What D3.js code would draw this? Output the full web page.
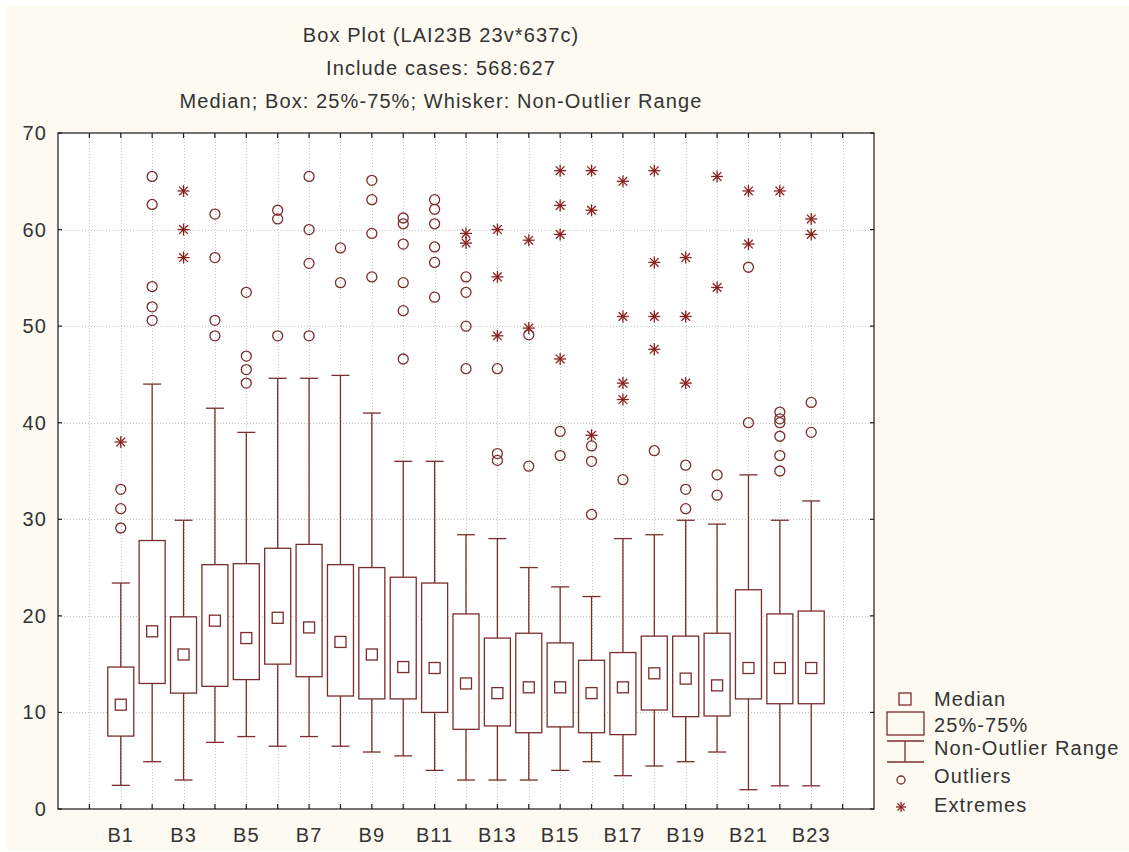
<!DOCTYPE html>
<html>
<head>
<meta charset="utf-8">
<script src="https://cdn.jsdelivr.net/npm/d3@7"></script>
<style>
  html, body { margin: 0; padding: 0; background: #ffffff; }
  svg { display: block; }
  text { font-family: "Liberation Sans", Arial, sans-serif; font-size: 20px; letter-spacing: 1.1px; fill: #333333; }
</style>
</head>
<body>
<svg id="chart" width="1129" height="852"></svg>
<script>
// Box plot of LAI23B variables B1..B23 (cases 568:627)
const categories = ["B1","B2","B3","B4","B5","B6","B7","B8","B9","B10","B11","B12",
                    "B13","B14","B15","B16","B17","B18","B19","B20","B21","B22","B23"];
const medians    = [10.8,18.4,16.0,19.5,17.7,19.8,18.8,17.3,16.0,14.7,14.6,13.0,
                    12.0,12.6,12.6,12.0,12.6,14.05,13.5,12.8,14.6,14.6,14.6];
const q1         = [7.55,13.0,12.0,12.7,13.4,15.0,13.7,11.7,11.4,11.4,10.0,8.25,
                    8.6,7.9,8.5,7.9,7.7,10.25,9.56,9.63,11.4,10.9,10.9];
const q3         = [14.7,27.8,19.9,25.3,25.4,27.0,27.4,25.3,25.0,24.0,23.4,20.2,
                    17.7,18.2,17.2,15.4,16.2,17.9,17.9,18.2,22.7,20.2,20.5];
const whiskerLow = [2.45,4.9,3.0,6.9,7.5,6.5,7.5,6.5,5.9,5.5,4.0,3.0,
                    3.0,3.0,4.0,4.9,3.45,4.45,4.9,5.9,2.0,2.4,2.4];
const whiskerHigh= [23.4,44.0,29.9,41.5,39.0,44.6,44.6,44.9,41.0,36.0,36.0,28.4,
                    28.0,25.0,23.0,22.0,28.0,28.4,29.9,29.5,34.6,29.9,31.9];
const outliers = [
  [33.1,31.1,29.1],
  [65.5,62.6,54.1,52.0,50.6],
  [],
  [61.6,57.1,50.6,49.0],
  [53.5,46.9,45.5,44.1],
  [62.0,61.1,49.0],
  [65.5,60.0,56.5,49.0],
  [58.1,54.5],
  [65.1,63.1,59.6,55.1],
  [61.2,60.6,58.5,54.5,51.6,46.6],
  [63.1,62.1,60.6,58.2,56.6,53.0],
  [55.1,53.5,50.0,45.6],
  [45.6,36.8,36.1],
  [49.1,35.5],
  [39.1,36.6],
  [37.6,36.0,30.5],
  [34.1],
  [37.1],
  [35.6,33.1,31.1],
  [34.6,32.5],
  [56.1,40.0],
  [41.1,40.4,40.0,38.6,36.6,35.0],
  [42.1,39.0]
];
const extremes = [
  [38.0],
  [],
  [64.0,60.0,57.1],
  [],[],[],[],[],[],[],[],
  [59.6,58.6],
  [60.0,55.1,49.0],
  [58.9,49.8],
  [66.1,62.5,59.5,46.6],
  [66.1,62.0,38.7],
  [65.0,51.0,44.1,42.4],
  [66.1,56.6,51.0,47.6],
  [57.1,51.0,44.1],
  [65.5,54.0],
  [64.0,58.5],
  [64.0],
  [61.1,59.5]
];
const yTicks = [0,10,20,30,40,50,60,70];
const xTickLabels = ["B1","B3","B5","B7","B9","B11","B13","B15","B17","B19","B21","B23"];
const titleLines = ["Box Plot (LAI23B 23v*637c)", "Include cases: 568:627",
                    "Median; Box: 25%-75%; Whisker: Non-Outlier Range"];
const legendLabels = ["Median", "25%-75%", "Non-Outlier Range", "Outliers", "Extremes"];

const W = 1129, H = 852;
const plot = { left: 58, right: 874, top: 133, bottom: 809 };
const lineColor = "#7b2c2c";
const starColor = "#8a1f1f";

const svg = d3.select("#chart");

// backgrounds
svg.append("rect").attr("x", 6).attr("y", 6).attr("width", W - 6).attr("height", H - 8)
  .attr("fill", "#fdfaf1");
svg.append("rect").attr("x", plot.left).attr("y", plot.top)
  .attr("width", plot.right - plot.left).attr("height", plot.bottom - plot.top)
  .attr("fill", "#ffffff");

const x = d3.scalePoint().domain(categories).range([plot.left, plot.right]).padding(2);
const step = x.step();
const y = d3.scaleLinear().domain([0, 70]).range([plot.bottom, plot.top]);

// slot positions for vertical grid and ticks (one empty slot on each side of the data)
const slots = [x(categories[0]) - step, ...categories.map(c => x(c)), x(categories[categories.length - 1]) + step];

const grid = svg.append("g").attr("stroke", "#c4c4c4").attr("stroke-width", 1)
  .attr("stroke-dasharray", "1,2");
grid.selectAll("line.v").data(slots).join("line").attr("class", "v")
  .attr("x1", d => Math.round(d) + 0.5).attr("x2", d => Math.round(d) + 0.5)
  .attr("y1", plot.top).attr("y2", plot.bottom);
grid.selectAll("line.h").data(yTicks.filter(t => t > 0 && t < 70)).join("line").attr("class", "h")
  .attr("y1", d => Math.round(y(d)) + 0.5).attr("y2", d => Math.round(y(d)) + 0.5)
  .attr("x1", plot.left).attr("x2", plot.right);

// boxes
const boxW = 26, capW = 18, medS = 11;
const g = svg.append("g").attr("stroke", lineColor).attr("stroke-width", 1.3).attr("fill", "none");
categories.forEach((c, i) => {
  const cx = x(c);
  const gi = g.append("g");
  gi.append("line").attr("x1", cx).attr("x2", cx).attr("y1", y(whiskerHigh[i])).attr("y2", y(q3[i]));
  gi.append("line").attr("x1", cx).attr("x2", cx).attr("y1", y(q1[i])).attr("y2", y(whiskerLow[i]));
  gi.append("line").attr("x1", cx - capW / 2).attr("x2", cx + capW / 2)
    .attr("y1", y(whiskerHigh[i])).attr("y2", y(whiskerHigh[i]));
  gi.append("line").attr("x1", cx - capW / 2).attr("x2", cx + capW / 2)
    .attr("y1", y(whiskerLow[i])).attr("y2", y(whiskerLow[i]));
  gi.append("rect").attr("x", cx - boxW / 2).attr("width", boxW)
    .attr("y", y(q3[i])).attr("height", y(q1[i]) - y(q3[i])).attr("fill", "#ffffff");
  gi.append("rect").attr("x", cx - medS / 2).attr("width", medS)
    .attr("y", y(medians[i]) - medS / 2).attr("height", medS).attr("fill", "#ffffff");
});

// outliers and extremes
function star(sel, cx, cy, r) {
  const gs = sel.append("g").attr("stroke", starColor).attr("stroke-width", 1.3);
  const d = r * 0.72;
  gs.append("line").attr("x1", cx - r).attr("x2", cx + r).attr("y1", cy).attr("y2", cy);
  gs.append("line").attr("x1", cx).attr("x2", cx).attr("y1", cy - r).attr("y2", cy + r);
  gs.append("line").attr("x1", cx - d).attr("x2", cx + d).attr("y1", cy - d).attr("y2", cy + d);
  gs.append("line").attr("x1", cx - d).attr("x2", cx + d).attr("y1", cy + d).attr("y2", cy - d);
}
const marks = svg.append("g");
categories.forEach((c, i) => {
  outliers[i].forEach(v => {
    marks.append("circle").attr("cx", x(c)).attr("cy", y(v)).attr("r", 5)
      .attr("fill", "none").attr("stroke", lineColor).attr("stroke-width", 1.3);
  });
  extremes[i].forEach(v => star(marks, x(c), y(v), 6));
});

// frame and ticks
const axis = svg.append("g").attr("stroke", "#1a1a1a").attr("stroke-width", 1.2);
axis.append("rect").attr("x", plot.left).attr("y", plot.top)
  .attr("width", plot.right - plot.left).attr("height", plot.bottom - plot.top).attr("fill", "none");
slots.forEach(s => {
  axis.append("line").attr("x1", s).attr("x2", s).attr("y1", plot.bottom).attr("y2", plot.bottom - 5);
  axis.append("line").attr("x1", s).attr("x2", s).attr("y1", plot.top).attr("y2", plot.top + 5);
});
yTicks.forEach(t => {
  axis.append("line").attr("x1", plot.left).attr("x2", plot.left + 4).attr("y1", y(t)).attr("y2", y(t));
  axis.append("line").attr("x1", plot.right).attr("x2", plot.right - 4).attr("y1", y(t)).attr("y2", y(t));
});

// tick labels
svg.append("g").selectAll("text").data(yTicks).join("text")
  .attr("x", 47).attr("y", d => y(d) + 7).attr("text-anchor", "end").text(d => d);
svg.append("g").selectAll("text").data(xTickLabels).join("text")
  .attr("x", d => x(d)).attr("y", 842).attr("text-anchor", "middle").text(d => d);

// titles
svg.append("g").selectAll("text").data(titleLines).join("text")
  .attr("x", 441).attr("y", (d, i) => 42 + i * 33).attr("text-anchor", "middle").text(d => d);

// legend
const lg = svg.append("g");
const lx = 905;
lg.append("rect").attr("x", lx - 6).attr("y", 693).attr("width", 12).attr("height", 12)
  .attr("fill", "none").attr("stroke", lineColor).attr("stroke-width", 1.3);
lg.append("rect").attr("x", 887).attr("y", 712).attr("width", 37).attr("height", 23)
  .attr("fill", "none").attr("stroke", lineColor).attr("stroke-width", 1.3);
lg.append("line").attr("x1", 887).attr("x2", 924).attr("y1", 741).attr("y2", 741)
  .attr("stroke", lineColor).attr("stroke-width", 1.3);
lg.append("line").attr("x1", 887).attr("x2", 924).attr("y1", 762).attr("y2", 762)
  .attr("stroke", lineColor).attr("stroke-width", 1.3);
lg.append("line").attr("x1", lx).attr("x2", lx).attr("y1", 741).attr("y2", 762)
  .attr("stroke", lineColor).attr("stroke-width", 1.3);
lg.append("circle").attr("cx", 901).attr("cy", 780).attr("r", 4)
  .attr("fill", "none").attr("stroke", lineColor).attr("stroke-width", 1.3);
star(lg, 901, 807, 5);
const legendBase = [706, 732, 755, 783, 812];
lg.selectAll("text").data(legendLabels).join("text")
  .attr("x", 934).attr("y", (d, i) => legendBase[i]).text(d => d);
</script>
</body>
</html>
